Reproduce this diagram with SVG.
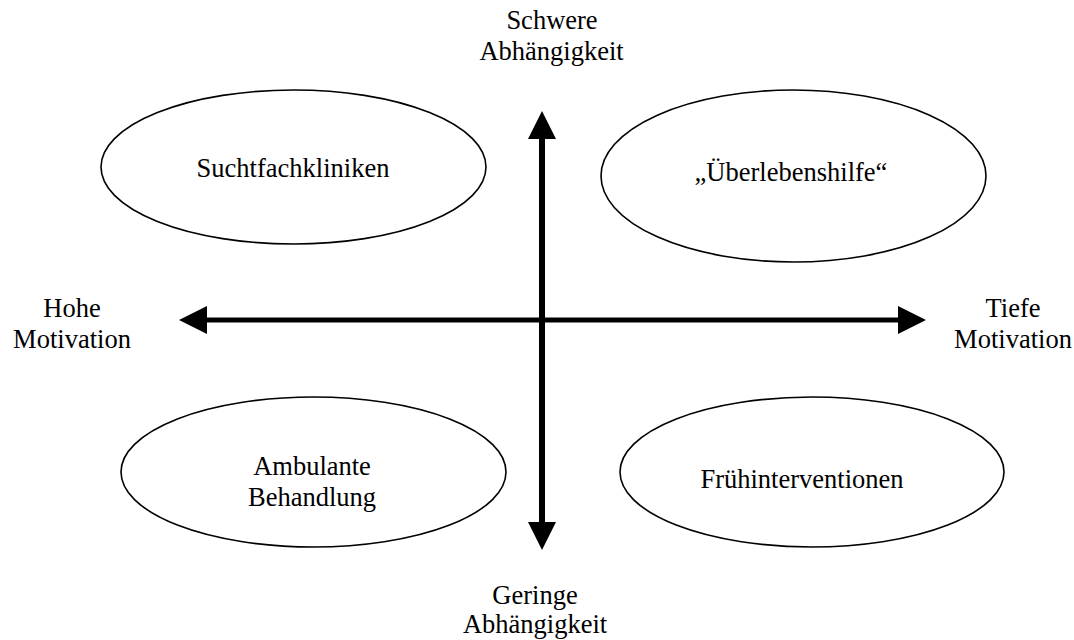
<svg xmlns="http://www.w3.org/2000/svg" width="1074" height="640" viewBox="0 0 1074 640">
<style>
.ell{fill:#fff;stroke:#000;stroke-width:1.6}
.ax{stroke:#000;fill:none}
</style>
<defs>
<marker id="ah" markerUnits="userSpaceOnUse" markerWidth="30" markerHeight="30" refX="0" refY="14" orient="auto-start-reverse" viewBox="0 0 30 30">
<path d="M0,0 L28,14 L0,28 z" fill="#000"/>
</marker>
</defs>
<rect width="1074" height="640" fill="#fff"/>
<g id="connectors">
<line class="ax" x1="542" y1="139" x2="542" y2="522" stroke-width="6" marker-start="url(#ah)" marker-end="url(#ah)"/>
<line class="ax" x1="207" y1="320" x2="898" y2="320" stroke-width="5" marker-start="url(#ah)" marker-end="url(#ah)"/>
</g>
<g font-family="Liberation Serif, Times New Roman, serif" font-size="26.5" fill="#000" text-anchor="middle">
<g id="suchtfachkliniken">
<ellipse class="ell" cx="293.5" cy="167" rx="192.5" ry="77"/>
<text x="293" y="177">Suchtfachkliniken</text>
</g>
<g id="ueberlebenshilfe">
<ellipse class="ell" cx="793.5" cy="176" rx="192.5" ry="86"/>
<text x="791" y="181">„Überlebenshilfe“</text>
</g>
<g id="ambulante">
<ellipse class="ell" cx="313.5" cy="472" rx="192.5" ry="75"/>
<text x="312" y="475">Ambulante</text>
<text x="312" y="506">Behandlung</text>
</g>
<g id="fruehinterventionen">
<ellipse class="ell" cx="812" cy="472" rx="192" ry="75"/>
<text x="802" y="488">Frühinterventionen</text>
</g>
<g id="label-schwere">
<text x="552" y="29">Schwere</text>
<text x="551.5" y="60">Abhängigkeit</text>
</g>
<g id="label-geringe">
<text x="535" y="604">Geringe</text>
<text x="535" y="633">Abhängigkeit</text>
</g>
<g id="label-hohe">
<text x="72" y="317">Hohe</text>
<text x="72" y="348">Motivation</text>
</g>
<g id="label-tiefe">
<text x="1013" y="317">Tiefe</text>
<text x="1013" y="348">Motivation</text>
</g>
</g>
</svg>
